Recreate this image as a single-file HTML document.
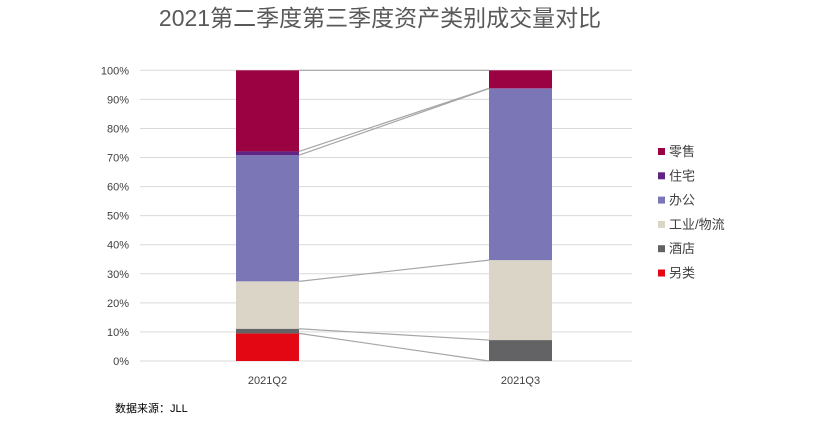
<!DOCTYPE html>
<html><head><meta charset="utf-8"><style>
body{margin:0;background:#fff;}
svg text{font-family:"Liberation Sans","Noto Sans CJK SC",sans-serif;}
</style></head><body>
<svg width="833" height="417" id="c">
<text x="380" y="26" font-size="23" fill="#595959" text-anchor="middle">2021第二季度第三季度资产类别成交量对比</text>
<text x="115" y="412" font-size="11" fill="#000">数据来源：JLL</text>
</svg>
<script>
const categories=["2021Q2","2021Q3"];
const seriesNames=["另类","酒店","工业/物流","办公","住宅","零售"];
const colors=["#e30613","#636366","#dbd5c8","#7b76b6","#5e2584","#9b0242"];
const values=[[9.5,1.6,16.3,43.4,1.3,27.9],[0,7.2,27.5,59.0,0.1,6.2]];
const yTicks=[0,10,20,30,40,50,60,70,80,90,100];
const svg=document.getElementById('c');const NS="http://www.w3.org/2000/svg";
const y0=361,y1=70.3;const y=v=>y0-(y0-y1)*v/100;
const bx=[236,489],bw=63;
function mk(t,a,p){const e=document.createElementNS(NS,t);for(const k in a)e.setAttribute(k,a[k]);(p||svg).appendChild(e);return e;}
yTicks.forEach(t=>{const l=mk('line',{x1:140,x2:632,y1:y(t),y2:y(t),stroke:'#d9d9d9','stroke-width':1});


const tx=mk('text',{x:129,y:y(t)+4,'font-size':11,fill:'#404040','text-anchor':'end'});tx.textContent=t+'%';

});
const tops=values.map(s=>{let c=0;return s.map(v=>(c+=v));});
values.forEach((s,i)=>{let c=0;s.forEach((v,j)=>{if(v>0){const r=mk('rect',{x:bx[i],y:y(c+v),width:bw,height:y(c)-y(c+v),fill:colors[j]});

}c+=v;});
const tx=mk('text',{x:bx[i]+bw/2,y:384,'font-size':11,fill:'#404040','text-anchor':'middle'});tx.textContent=categories[i];

});
for(let j=0;j<seriesNames.length;j++){const l=mk('line',{x1:bx[0]+bw,y1:y(tops[0][j]),x2:bx[1],y2:y(tops[1][j]),stroke:'#a6a6a6','stroke-width':1.2});

}
for(let j=seriesNames.length-1;j>=0;j--){const k=seriesNames.length-1-j;const yy=152+k*24.3;
const g=mk('g',{});

mk('rect',{x:658,y:yy-4,width:7,height:7,fill:colors[j]},g);
const t=mk('text',{x:669,y:yy+4,'font-size':13,fill:'#404040'},g);t.textContent=seriesNames[j];}
</script>
</body></html>
